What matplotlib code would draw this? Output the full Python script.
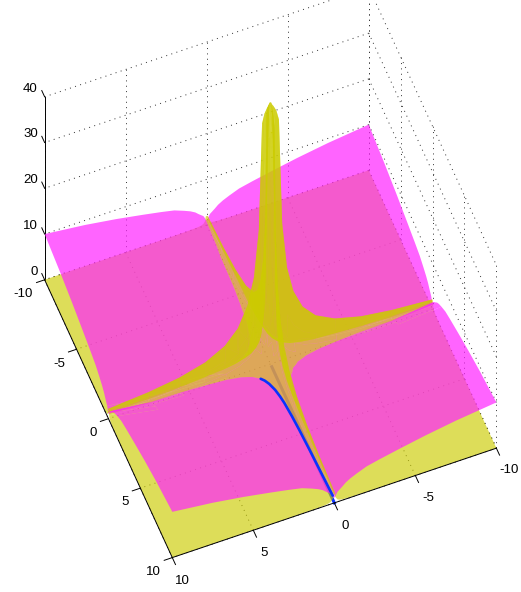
import matplotlib
matplotlib.use("Agg")
import matplotlib.pyplot as plt
import numpy as np
from matplotlib.patches import PathPatch
from matplotlib.path import Path
from mpl_toolkits.mplot3d import proj3d


X_TICKS = [-10, -5, 0, 5, 10]
Y_TICKS = [-10, -5, 0, 5, 10]
Z_TICKS = [0, 10, 20, 30, 40]

# grid nodes of one quadrant, the other three are mirrored
NODES = [0.05, 0.1, 0.2, 0.35, 0.5, 0.7, 1, 1.4, 2, 2.8, 4, 5.6, 7.5, 10]

YELLOW_Z = [
    [57, 56.5, 56, 55, 53, 30, 20, 14.3, 10, 7.14, 5, 3.57, 2.67, 2],
    [56.5, 50, 50, 36, 20, 14.3, 10, 7.14, 5, 3.57, 2.5, 1.79, 1.33, 1],
    [56, 50, 25, 14.3, 10, 7.14, 5, 3.57, 2.5, 1.79, 1.25, 0.89, 0.67, 0.5],
    [55, 36, 14.3, 8.16, 5.71, 4.08, 2.86, 2.04, 1.43, 1.02, 0.71, 0.51, 0.38, 0.29],
    [53, 20, 10, 5.71, 4, 2.86, 2, 1.43, 1, 0.71, 0.5, 0.36, 0.27, 0.2],
    [30, 14.3, 7.14, 4.08, 2.86, 2.04, 1.43, 1.02, 0.71, 0.51, 0.36, 0.26, 0.19, 0.14],
    [20, 10, 5, 2.86, 2, 1.43, 1, 0.71, 0.5, 0.36, 0.25, 0.18, 0.13, 0.1],
    [14.3, 7.14, 3.57, 2.04, 1.43, 1.02, 0.71, 0.51, 0.36, 0.26, 0.18, 0.13, 0.1, 0.07],
    [10, 5, 2.5, 1.43, 1, 0.71, 0.5, 0.36, 0.25, 0.18, 0.13, 0.09, 0.07, 0.05],
    [7.14, 3.57, 1.79, 1.02, 0.71, 0.51, 0.36, 0.26, 0.18, 0.13, 0.09, 0.06, 0.05, 0.04],
    [5, 2.5, 1.25, 0.71, 0.5, 0.36, 0.25, 0.18, 0.13, 0.09, 0.06, 0.04, 0.03, 0.03],
    [3.57, 1.79, 0.89, 0.51, 0.36, 0.26, 0.18, 0.13, 0.09, 0.06, 0.04, 0.03, 0.02, 0.02],
    [2.67, 1.33, 0.67, 0.38, 0.27, 0.19, 0.13, 0.1, 0.07, 0.05, 0.03, 0.02, 0.02, 0.01],
    [2, 1, 0.5, 0.29, 0.2, 0.14, 0.1, 0.07, 0.05, 0.04, 0.03, 0.02, 0.01, 0.01],
]

MAGENTA_Z = [
    [0.05, 0.07, 0.10, 0.13, 0.16, 0.19, 0.22, 0.26, 0.32, 0.37, 0.45, 0.53, 0.61, 1.2],
    [0.07, 0.10, 0.14, 0.19, 0.22, 0.26, 0.32, 0.37, 0.45, 0.53, 0.63, 0.75, 0.87, 1.6],
    [0.10, 0.14, 0.20, 0.26, 0.32, 0.37, 0.45, 0.53, 0.63, 0.75, 0.89, 1.06, 1.22, 2.2],
    [0.13, 0.19, 0.26, 0.35, 0.42, 0.50, 0.59, 0.70, 0.84, 0.99, 1.18, 1.40, 1.62, 2.6],
    [0.16, 0.22, 0.32, 0.42, 0.50, 0.59, 0.71, 0.84, 1.00, 1.18, 1.41, 1.67, 1.94, 3.0],
    [0.19, 0.26, 0.37, 0.50, 0.59, 0.70, 0.84, 0.99, 1.18, 1.40, 1.67, 1.98, 2.29, 3.6],
    [0.22, 0.32, 0.45, 0.59, 0.71, 0.84, 1.00, 1.18, 1.41, 1.67, 2.00, 2.37, 2.74, 4.2],
    [0.26, 0.37, 0.53, 0.70, 0.84, 0.99, 1.18, 1.40, 1.67, 1.98, 2.37, 2.80, 3.24, 4.8],
    [0.32, 0.45, 0.63, 0.84, 1.00, 1.18, 1.41, 1.67, 2.00, 2.37, 2.83, 3.35, 3.87, 5.6],
    [0.37, 0.53, 0.75, 0.99, 1.18, 1.40, 1.67, 1.98, 2.37, 2.80, 3.35, 3.96, 4.58, 6.2],
    [0.45, 0.63, 0.89, 1.18, 1.41, 1.67, 2.00, 2.37, 2.83, 3.35, 4.00, 4.73, 5.48, 7.0],
    [0.53, 0.75, 1.06, 1.40, 1.67, 1.98, 2.37, 2.80, 3.35, 3.96, 4.73, 5.60, 6.48, 8.0],
    [0.61, 0.87, 1.22, 1.62, 1.94, 2.29, 2.74, 3.24, 3.87, 4.58, 5.48, 6.48, 7.50, 9.0],
    [1.2, 1.6, 2.2, 2.6, 3.0, 3.6, 4.2, 4.8, 5.6, 6.2, 7.0, 8.0, 9.0, 10.0],
]

# path along the sheet crossing and its shadow on the floor
BLUE_Y = [1, 1.2, 1.5, 2, 2.5, 3, 4, 5, 6.5, 8, 10]
BLUE_X = [1, 0.83, 0.67, 0.5, 0.4, 0.33, 0.25, 0.2, 0.15, 0.125, 0.1]
BLUE_Z = [1, 1, 1, 1, 1, 1, 1, 1.05, 1.15, 1.35, 1.7]
FLOOR_Y = [0.2, 10]
FLOOR_X = [0, 0]
FLOOR_Z = [0, 0]

YELLOW = (204 / 255, 204 / 255, 0, 0.65)
MAGENTA = (1, 34 / 255, 1, 0.7)
ELEV = 59
AZIM = 68.5
AXES_PX = 500
BOX_ZOOM = 589.6 / 500
RASTER = 2


class FlatPatch(PathPatch):
    # already projected, the 3D axes only needs the hook to exist
    def do_3d_projection(self):
        return 0


def clip_side(rows, sign):
    out = []
    for k, p in enumerate(rows):
        q = rows[(k + 1) % len(rows)]
        dp = sign * (p[2] - p[3])
        dq = sign * (q[2] - q[3])
        if dp >= 0:
            out.append(p)
        if dp * dq < 0:
            out.append(p + dp / (dp - dq) * (q - p))
    return out


def build_faces(axis, yellow, magenta):
    # far to near, lower sheet first: a valid painter's order for height fields
    view = np.array([np.cos(np.radians(AZIM)), np.sin(np.radians(AZIM))])
    faces = []

    def add(piece, col, layer):
        faces.append((np.array([[r[0], r[1], r[col]] for r in piece]), layer))

    for i in range(len(axis) - 1):
        for j in range(len(axis) - 1):
            corners = {}
            for a, b in [(i, j), (i + 1, j), (i, j + 1), (i + 1, j + 1)]:
                corners[(a, b)] = np.array([axis[a], axis[b], yellow[a, b], magenta[a, b]])
            tris = [
                [corners[(i, j)], corners[(i + 1, j)], corners[(i, j + 1)]],
                [corners[(i + 1, j)], corners[(i + 1, j + 1)], corners[(i, j + 1)]],
            ]
            for tri in tris:
                pieces = []
                for sign in (1, -1):
                    piece = clip_side(tri, sign)
                    if len(piece) >= 3:
                        depth = np.mean([r[:2] @ view for r in piece])
                        pieces.append((depth, sign, piece))
                for _, sign, piece in sorted(pieces, key=lambda p: p[0]):
                    if sign > 0:
                        add(piece, 3, 1)
                        add(piece, 2, 0)
                    else:
                        add(piece, 2, 0)
                        add(piece, 3, 1)
    return faces


def cover_mask(poly):
    x0, y0 = np.floor(poly.min(axis=0)).astype(int)
    x1, y1 = np.ceil(poly.max(axis=0)).astype(int) + 1
    xs, ys = np.meshgrid(np.arange(x0, x1) + 0.5, np.arange(y0, y1) + 0.5)
    inside = np.ones(xs.shape, dtype=bool)
    for k in range(len(poly)):
        a, b = poly[k], poly[(k + 1) % len(poly)]
        inside &= (b[0] - a[0]) * (ys - a[1]) - (b[1] - a[1]) * (xs - a[0]) >= 0
    return x0, y0, inside


def signed_area(poly):
    x, y = poly[:, 0], poly[:, 1]
    return 0.5 * np.sum(x * np.roll(y, -1) - np.roll(x, -1) * y)


def batch_faces(ax, faces):
    # translucent faces leave seams when drawn one by one, so faces that do not
    # overlap on screen go into one compound path: yellow in even, magenta in odd
    m = ax.get_proj()
    fig = ax.figure
    w, h = fig.canvas.get_width_height()
    margin = 200
    top = -np.ones(((h + 2 * margin) * RASTER, (w + 2 * margin) * RASTER), dtype=int)
    batches = {}
    for verts, layer in faces:
        xs, ys, _ = proj3d.proj_transform(verts[:, 0], verts[:, 1], verts[:, 2], m)
        flat = np.column_stack([xs, ys])
        poly = (ax.transData.transform(flat) + margin) * RASTER
        area = signed_area(poly)
        if area < 0:
            poly = poly[::-1]
            flat = flat[::-1]
        x0, y0, inside = cover_mask(poly)
        rows, cols = np.nonzero(inside)
        rows = np.clip(rows + y0, 0, top.shape[0] - 1)
        cols = np.clip(cols + x0, 0, top.shape[1] - 1)
        if len(rows):
            b = top[rows, cols].max() + 1
            if b % 2 != layer:
                b += 1
            top[rows, cols] = b
        else:
            cx, cy = poly.mean(axis=0).astype(int)
            b = max(top[cy, cx], 0)
            if b % 2 != layer:
                b += 1
        batches.setdefault(b, []).append(flat)
    return batches


def draw_batches(ax, batches):
    for b in sorted(batches):
        verts = []
        codes = []
        for flat in batches[b]:
            verts.extend(flat)
            verts.append(flat[0])
            codes.extend([Path.MOVETO] + [Path.LINETO] * (len(flat) - 1) + [Path.CLOSEPOLY])
        color = MAGENTA if b % 2 else YELLOW
        patch = FlatPatch(Path(np.array(verts), codes), facecolor=color, edgecolor="none",
                          linewidth=0, antialiased=True, zorder=2, clip_on=False)
        patch.set_snap(False)
        ax.add_artist(patch)
        patch.set_clip_on(False)


def mirrored(table):
    n = len(NODES)
    idx = list(range(n - 1, -1, -1)) + list(range(n))
    return np.array(table, dtype=float)[np.ix_(idx, idx)]


def tick_label(ax, x, y, z, value, ha):
    px, py, _ = proj3d.proj_transform(x, y, z, ax.get_proj())
    ax.text2D(px, py, str(value), transform=ax.transData, ha=ha, va="center")


def draw_frame(ax):
    dotted = dict(color="#303030", lw=0.7, ls=(0, (1, 4.5)), clip_on=False, zorder=1)
    solid = dict(color="black", lw=0.7, clip_on=False, zorder=4)
    x0, x1 = X_TICKS[0], X_TICKS[-1]
    y0, y1 = Y_TICKS[0], Y_TICKS[-1]
    z0, z1 = Z_TICKS[0], Z_TICKS[-1]

    for x in X_TICKS:
        ax.plot([x, x], [y0, y1], [z0, z0], **dotted)
        ax.plot([x, x], [y0, y0], [z0, z1], **dotted)
    for y in Y_TICKS:
        ax.plot([x0, x1], [y, y], [z0, z0], **dotted)
        ax.plot([x0, x0], [y, y], [z0, z1], **dotted)
    for z in Z_TICKS:
        ax.plot([x0, x1], [y0, y0], [z, z], **dotted)
        ax.plot([x0, x0], [y0, y1], [z, z], **dotted)

    ax.plot([x0, x1], [y1, y1], [z0, z0], **solid)
    ax.plot([x1, x1], [y0, y1], [z0, z0], **solid)
    ax.plot([x1, x1], [y0, y0], [z0, z1], color="black", lw=0.7, clip_on=False, zorder=1)

    for x in X_TICKS:
        ax.plot([x, x], [y1, y1 + 0.5], [z0, z0], **solid)
        tick_label(ax, x + (-0.15 if x < 0 else 0), y1 + 1.65, z0, x, "center")
    for y in Y_TICKS:
        ax.plot([x1, x1 + 0.5], [y, y], [z0, z0], **solid)
        tick_label(ax, x1 + 0.96, y + 0.65, z0, y, "right")
    for z in Z_TICKS:
        ax.plot([x1, x1], [y0, y0 - 0.45], [z, z], **solid)
        tick_label(ax, x1 + 0.17, y0 - 0.65, z, z, "right")


def main():
    plt.rcParams["font.family"] = ["Liberation Sans", "DejaVu Sans"]
    plt.rcParams["font.size"] = 9.5

    fig = plt.figure(figsize=(5.21, 5.92), dpi=100)
    left = (270.5 - 0.5135 * AXES_PX) / 521
    bottom = (319.5 - 0.5135 * AXES_PX) / 592
    ax = fig.add_axes([left, bottom, AXES_PX / 521, AXES_PX / 592],
                      projection="3d", proj_type="ortho", computed_zorder=False)
    ax.view_init(elev=ELEV, azim=AZIM)
    ax.set_box_aspect((349, 349, 356), zoom=BOX_ZOOM)
    ax.set_xlim(-10, 10, view_margin=0)
    ax.set_ylim(-10, 10, view_margin=0)
    ax.set_zlim(0, 40, view_margin=0)
    ax.set_axis_off()
    ax.apply_aspect()

    draw_frame(ax)

    ax.plot(FLOOR_X, FLOOR_Y, FLOOR_Z, color="#0a32ff", lw=2.2, clip_on=False, zorder=1.5)

    nodes = np.array(NODES)
    axis = np.concatenate([-nodes[::-1], nodes])
    faces = build_faces(axis, mirrored(YELLOW_Z), mirrored(MAGENTA_Z))
    draw_batches(ax, batch_faces(ax, faces))

    ax.plot(BLUE_X, BLUE_Y, BLUE_Z, color="#0a32ff", lw=1.9, clip_on=False, zorder=3,
            solid_capstyle="round")

    fig.savefig("out.png", dpi=100)
    plt.close(fig)


if __name__ == "__main__":
    main()
